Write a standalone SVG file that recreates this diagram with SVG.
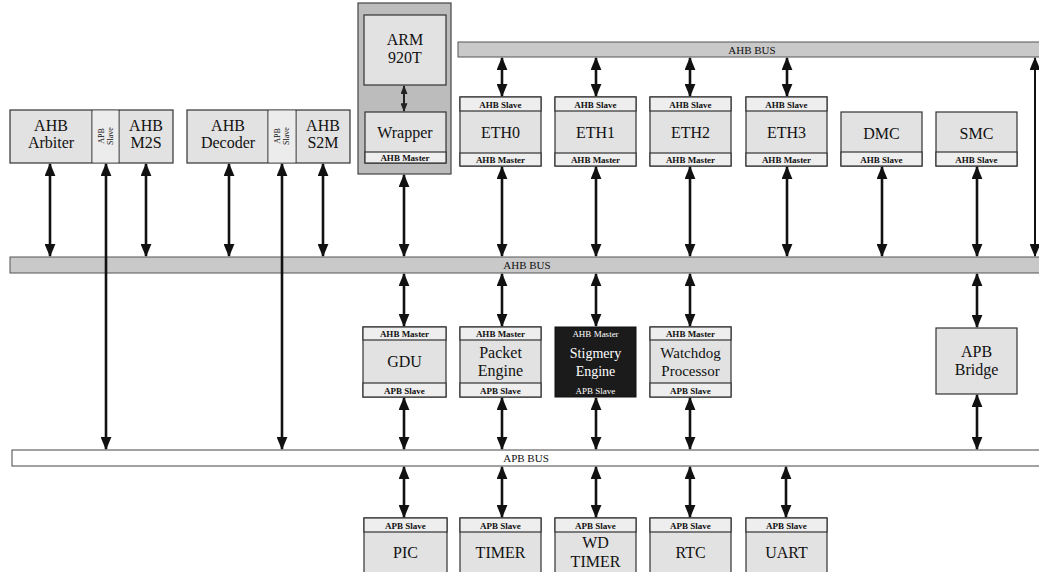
<svg xmlns="http://www.w3.org/2000/svg" width="1039" height="572" viewBox="0 0 1039 572">
<defs>
<marker id="ah" viewBox="0 0 12 10" refX="11" refY="5" markerWidth="13" markerHeight="11" markerUnits="userSpaceOnUse" orient="auto-start-reverse">
<path d="M0,0 L12,5 L0,10 z" fill="#111"/>
</marker>
<marker id="ahs" viewBox="0 0 10 8" refX="9" refY="4" markerWidth="9" markerHeight="7" markerUnits="userSpaceOnUse" orient="auto-start-reverse">
<path d="M0,0 L10,4 L0,8 z" fill="#222"/>
</marker>
</defs>
<style>
.box{fill:#e2e2e2;stroke:#333;stroke-width:1.2}
.strip{fill:#eeeeee;stroke:#333;stroke-width:1.2}
.bus{fill:#c9c9c9;stroke:#555;stroke-width:1}
.apbbus{fill:#ffffff;stroke:#444;stroke-width:1}
.outer{fill:#bcbcbc;stroke:#444;stroke-width:1.2}
.t{font-family:"Liberation Serif","Times New Roman",serif;font-size:16px;fill:#111;text-anchor:middle}
.s{font-family:"Liberation Serif","Times New Roman",serif;font-size:9px;font-weight:bold;fill:#111;text-anchor:middle}
.b{font-family:"Liberation Serif","Times New Roman",serif;font-size:11px;fill:#111;text-anchor:middle}
.w{fill:#fff}
.c line{stroke:#111;stroke-width:2.6;marker-start:url(#ah);marker-end:url(#ah)}
</style>
<rect width="1039" height="572" fill="#fff"/>

<!-- buses -->
<g id="top-ahb-bus"><rect class="bus" x="458" y="42" width="582" height="15"/><text class="b" x="752" y="53.5">AHB BUS</text></g>
<g id="ahb-bus"><rect class="bus" x="10" y="257" width="1030" height="16"/><text class="b" x="527" y="269">AHB BUS</text></g>
<g id="apb-bus"><rect class="apbbus" x="12" y="450" width="1028" height="16"/><text class="b" x="526" y="462">APB BUS</text></g>

<!-- left groups -->
<g id="arbiter-m2s">
<rect class="box" x="10" y="110" width="163" height="53"/>
<line x1="92" y1="110" x2="92" y2="163" stroke="#333" stroke-width="1.2"/>
<line x1="119" y1="110" x2="119" y2="163" stroke="#333" stroke-width="1.2"/>
<rect x="92.6" y="110.6" width="25.8" height="51.8" fill="#ececec"/>
<text class="t" x="51" y="131">AHB</text><text class="t" x="51" y="148">Arbiter</text>
<text class="s" style="font-size:8px;font-weight:normal" transform="translate(105.5,136) rotate(-90)"><tspan x="0" y="-2">APB</tspan><tspan x="0" y="7">Slave</tspan></text>
<text class="t" x="146" y="131">AHB</text><text class="t" x="146" y="148">M2S</text>
</g>
<g id="decoder-s2m">
<rect class="box" x="187" y="110" width="163" height="53"/>
<line x1="268" y1="110" x2="268" y2="163" stroke="#333" stroke-width="1.2"/>
<line x1="296" y1="110" x2="296" y2="163" stroke="#333" stroke-width="1.2"/>
<rect x="268.6" y="110.6" width="26.8" height="51.8" fill="#ececec"/>
<text class="t" x="228" y="131">AHB</text><text class="t" x="228" y="148">Decoder</text>
<text class="s" style="font-size:8px;font-weight:normal" transform="translate(282,136) rotate(-90)"><tspan x="0" y="-2">APB</tspan><tspan x="0" y="7">Slave</tspan></text>
<text class="t" x="323" y="131">AHB</text><text class="t" x="323" y="148">S2M</text>
</g>

<!-- ARM -->
<g id="arm920t">
<rect class="outer" x="358" y="3" width="93" height="171"/>
<rect class="box" x="364" y="15" width="82" height="70"/>
<text class="t" x="405" y="45">ARM</text><text class="t" x="405" y="63">920T</text>
<rect class="box" x="365" y="112" width="81" height="51"/>
<rect class="strip" x="365" y="152" width="81" height="11"/>
<text class="t" x="405" y="138">Wrapper</text>
<text class="s" x="405" y="160.5">AHB Master</text>
<line x1="404" y1="86" x2="404" y2="111" stroke="#222" stroke-width="2" marker-start="url(#ahs)" marker-end="url(#ahs)"/>
</g>

<!-- ETH -->
<g id="eth0"><rect class="box" x="460" y="97" width="81" height="69"/><rect class="strip" x="460" y="97" width="81" height="14"/><rect class="strip" x="460" y="153" width="81" height="13"/><text class="s" x="500.5" y="107.5">AHB Slave</text><text class="t" x="500.5" y="138">ETH0</text><text class="s" x="500.5" y="163">AHB Master</text></g>
<g id="eth1"><rect class="box" x="555" y="97" width="81" height="69"/><rect class="strip" x="555" y="97" width="81" height="14"/><rect class="strip" x="555" y="153" width="81" height="13"/><text class="s" x="595.5" y="107.5">AHB Slave</text><text class="t" x="595.5" y="138">ETH1</text><text class="s" x="595.5" y="163">AHB Master</text></g>
<g id="eth2"><rect class="box" x="650" y="97" width="81" height="69"/><rect class="strip" x="650" y="97" width="81" height="14"/><rect class="strip" x="650" y="153" width="81" height="13"/><text class="s" x="690.5" y="107.5">AHB Slave</text><text class="t" x="690.5" y="138">ETH2</text><text class="s" x="690.5" y="163">AHB Master</text></g>
<g id="eth3"><rect class="box" x="746" y="97" width="81" height="69"/><rect class="strip" x="746" y="97" width="81" height="14"/><rect class="strip" x="746" y="153" width="81" height="13"/><text class="s" x="786.5" y="107.5">AHB Slave</text><text class="t" x="786.5" y="138">ETH3</text><text class="s" x="786.5" y="163">AHB Master</text></g>
<g id="dmc"><rect class="box" x="841" y="112" width="81" height="54"/><rect class="strip" x="841" y="152" width="81" height="14"/><text class="t" x="881.5" y="139">DMC</text><text class="s" x="881.5" y="162.5">AHB Slave</text></g>
<g id="smc"><rect class="box" x="936" y="112" width="81" height="54"/><rect class="strip" x="936" y="152" width="81" height="14"/><text class="t" x="976.5" y="139">SMC</text><text class="s" x="976.5" y="162.5">AHB Slave</text></g>

<!-- lower boxes -->
<g id="gdu"><rect class="box" x="363" y="327" width="83" height="70"/><rect class="strip" x="363" y="327" width="83" height="13"/><rect class="strip" x="363" y="383" width="83" height="14"/><text class="s" x="404.5" y="337">AHB Master</text><text class="t" x="404.5" y="367">GDU</text><text class="s" x="404.5" y="393.5">APB Slave</text></g>
<g id="packet-engine"><rect class="box" x="460" y="327" width="81" height="70"/><rect class="strip" x="460" y="327" width="81" height="13"/><rect class="strip" x="460" y="383" width="81" height="14"/><text class="s" x="500.5" y="337">AHB Master</text><text class="t" x="500.5" y="358">Packet</text><text class="t" x="500.5" y="376">Engine</text><text class="s" x="500.5" y="393.5">APB Slave</text></g>
<g id="stigmery-engine"><rect x="555" y="327" width="81" height="70" fill="#1b1b1b" stroke="#111"/><text class="s w" style="font-weight:normal" x="595.5" y="337">AHB Master</text><text class="t w" style="font-size:14px" x="595.5" y="358">Stigmery</text><text class="t w" style="font-size:14px" x="595.5" y="376">Engine</text><text class="s w" style="font-weight:normal" x="595.5" y="393.5">APB Slave</text></g>
<g id="watchdog-processor"><rect class="box" x="650" y="327" width="81" height="70"/><rect class="strip" x="650" y="327" width="81" height="13"/><rect class="strip" x="650" y="383" width="81" height="14"/><text class="s" x="690.5" y="337">AHB Master</text><text class="t" style="font-size:15px" x="690.5" y="358">Watchdog</text><text class="t" style="font-size:15px" x="690.5" y="376">Processor</text><text class="s" x="690.5" y="393.5">APB Slave</text></g>
<g id="apb-bridge"><rect class="box" x="936" y="328" width="81" height="66"/><text class="t" x="976.5" y="357">APB</text><text class="t" x="976.5" y="375">Bridge</text></g>

<!-- bottom boxes -->
<g id="pic"><rect class="box" x="364" y="518" width="83" height="70"/><rect class="strip" x="364" y="518" width="83" height="14"/><text class="s" x="405.5" y="528.5">APB Slave</text><text class="t" x="405.5" y="558">PIC</text></g>
<g id="timer"><rect class="box" x="460" y="518" width="81" height="70"/><rect class="strip" x="460" y="518" width="81" height="14"/><text class="s" x="500.5" y="528.5">APB Slave</text><text class="t" x="500.5" y="558">TIMER</text></g>
<g id="wd-timer"><rect class="box" x="555" y="518" width="81" height="70"/><rect class="strip" x="555" y="518" width="81" height="14"/><text class="s" x="595.5" y="528.5">APB Slave</text><text class="t" x="595.5" y="548">WD</text><text class="t" x="595.5" y="567">TIMER</text></g>
<g id="rtc"><rect class="box" x="650" y="518" width="81" height="70"/><rect class="strip" x="650" y="518" width="81" height="14"/><text class="s" x="690.5" y="528.5">APB Slave</text><text class="t" x="690.5" y="558">RTC</text></g>
<g id="uart"><rect class="box" x="746" y="518" width="81" height="70"/><rect class="strip" x="746" y="518" width="81" height="14"/><text class="s" x="786.5" y="528.5">APB Slave</text><text class="t" x="786.5" y="558">UART</text></g>

<!-- connectors -->
<g id="connectors" class="c">
<line x1="502" y1="58" x2="502" y2="96"/>
<line x1="596" y1="58" x2="596" y2="96"/>
<line x1="690" y1="58" x2="690" y2="96"/>
<line x1="787" y1="58" x2="787" y2="96"/>
<line x1="1035" y1="58" x2="1035" y2="256" style="stroke-width:2"/>
<line x1="50" y1="164" x2="50" y2="256"/>
<line x1="146" y1="164" x2="146" y2="256"/>
<line x1="229" y1="164" x2="229" y2="256"/>
<line x1="323" y1="164" x2="323" y2="256"/>
<line x1="404" y1="175" x2="404" y2="256"/>
<line x1="502" y1="167" x2="502" y2="256"/>
<line x1="596" y1="167" x2="596" y2="256"/>
<line x1="690" y1="167" x2="690" y2="256"/>
<line x1="787" y1="167" x2="787" y2="256"/>
<line x1="882" y1="167" x2="882" y2="256"/>
<line x1="977" y1="167" x2="977" y2="256"/>
<line x1="106" y1="164" x2="106" y2="449"/>
<line x1="282" y1="164" x2="282" y2="449"/>
<line x1="404" y1="274" x2="404" y2="326"/>
<line x1="502" y1="274" x2="502" y2="326"/>
<line x1="596" y1="274" x2="596" y2="326"/>
<line x1="690" y1="274" x2="690" y2="326"/>
<line x1="977" y1="274" x2="977" y2="327"/>
<line x1="404" y1="398" x2="404" y2="449"/>
<line x1="502" y1="398" x2="502" y2="449"/>
<line x1="596" y1="398" x2="596" y2="449"/>
<line x1="690" y1="398" x2="690" y2="449"/>
<line x1="977" y1="395" x2="977" y2="449"/>
<line x1="404" y1="467" x2="404" y2="517"/>
<line x1="502" y1="467" x2="502" y2="517"/>
<line x1="596" y1="467" x2="596" y2="517"/>
<line x1="690" y1="467" x2="690" y2="517"/>
<line x1="786" y1="467" x2="786" y2="517"/>
</g>
</svg>
